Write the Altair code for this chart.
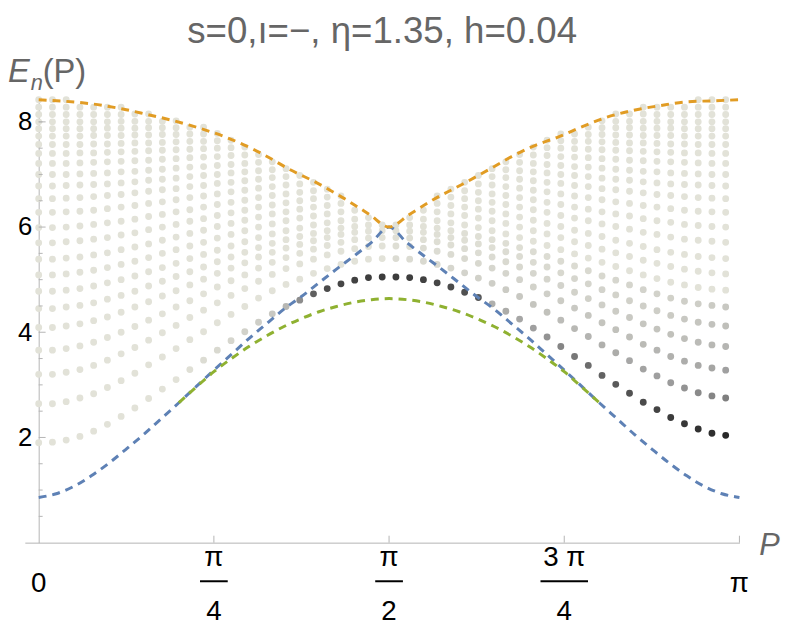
import altair as alt
import pandas as pd

TITLE = "s=0,\u0131=\u2212,  \u03b7=1.35, h=0.04"

# ---- columns of the spectrum: P_k = k*pi/51, k = 0..50 (P in units of pi) ----
N_COLS = 51
col_p = [k / 51 for k in range(N_COLS)]

# ---- energy levels, one list per level, one value per column ----
levels = [
    [1.90, 1.91, 1.95, 2.02, 2.12, 2.25, 2.40, 2.56, 2.74, 2.92, 3.10, 3.29, 3.47, 3.66, 3.84, 4.01, 4.19, 4.35, 4.49, 4.61, 4.73, 4.83, 4.92, 4.99, 5.04, 5.05,
     5.05, 5.04, 5.00, 4.94, 4.86, 4.76, 4.66, 4.54, 4.40, 4.25, 4.08, 3.91, 3.73, 3.54, 3.37, 3.18, 3.01, 2.84, 2.67, 2.53, 2.38, 2.26, 2.16, 2.08, 2.04],
    [2.64, 2.64, 2.68, 2.75, 2.83, 2.95, 3.08, 3.22, 3.38, 3.53, 3.69, 3.86, 4.01, 4.18, 4.34, 4.49, 4.65, 4.79, 4.91, 5.01, 5.12, 5.21, 5.29, 5.35, 5.39, 5.40,
     5.40, 5.39, 5.35, 5.29, 5.22, 5.13, 5.03, 4.93, 4.81, 4.68, 4.53, 4.38, 4.23, 4.07, 3.92, 3.76, 3.61, 3.46, 3.30, 3.17, 3.04, 2.94, 2.85, 2.79, 2.75],
    [3.20, 3.20, 3.24, 3.29, 3.37, 3.47, 3.59, 3.71, 3.85, 3.99, 4.13, 4.28, 4.42, 4.56, 4.70, 4.83, 4.97, 5.10, 5.21, 5.30, 5.39, 5.47, 5.54, 5.59, 5.63, 5.64,
     5.64, 5.63, 5.60, 5.54, 5.48, 5.40, 5.31, 5.22, 5.12, 5.00, 4.86, 4.73, 4.60, 4.46, 4.32, 4.18, 4.05, 3.91, 3.77, 3.66, 3.54, 3.45, 3.37, 3.32, 3.28],
    [3.66, 3.66, 3.69, 3.74, 3.81, 3.90, 4.00, 4.11, 4.23, 4.35, 4.48, 4.60, 4.73, 4.86, 4.98, 5.09, 5.22, 5.33, 5.42, 5.50, 5.58, 5.65, 5.71, 5.76, 5.79, 5.80,
     5.80, 5.79, 5.76, 5.72, 5.66, 5.59, 5.51, 5.43, 5.34, 5.24, 5.12, 5.01, 4.89, 4.76, 4.64, 4.52, 4.40, 4.28, 4.16, 4.06, 3.96, 3.88, 3.81, 3.76, 3.73],
    [4.09, 4.09, 4.12, 4.16, 4.22, 4.29, 4.38, 4.48, 4.58, 4.69, 4.79, 4.90, 5.01, 5.12, 5.22, 5.32, 5.43, 5.52, 5.60, 5.67, 5.74, 5.80, 5.86, 5.90, 5.92, 5.93,
     5.93, 5.92, 5.90, 5.86, 5.80, 5.75, 5.68, 5.61, 5.53, 5.44, 5.33, 5.24, 5.13, 5.02, 4.92, 4.81, 4.71, 4.60, 4.50, 4.41, 4.32, 4.25, 4.19, 4.15, 4.12],
    [4.45, 4.45, 4.48, 4.51, 4.56, 4.63, 4.70, 4.78, 4.88, 4.97, 5.06, 5.15, 5.24, 5.34, 5.43, 5.52, 5.61, 5.69, 5.76, 5.82, 5.88, 5.93, 5.98, 6.01, 6.04, 6.04,
     6.04, 6.04, 6.01, 5.98, 5.93, 5.88, 5.82, 5.76, 5.69, 5.61, 5.53, 5.44, 5.35, 5.26, 5.17, 5.07, 4.99, 4.90, 4.81, 4.73, 4.65, 4.59, 4.54, 4.51, 4.48],
    [4.78, 4.78, 4.80, 4.83, 4.88, 4.94, 5.00, 5.07, 5.15, 5.23, 5.31, 5.40, 5.48, 5.56, 5.64, 5.72, 5.80, 5.87, 5.93, 5.98, 6.04, 6.08, 6.12, 6.15, 6.18, 6.18,
     6.18, 6.18, 6.15, 6.12, 6.08, 6.04, 5.99, 5.93, 5.87, 5.80, 5.73, 5.65, 5.57, 5.49, 5.41, 5.33, 5.25, 5.17, 5.09, 5.02, 4.95, 4.90, 4.85, 4.82, 4.80],
    [5.09, 5.09, 5.11, 5.14, 5.18, 5.23, 5.29, 5.35, 5.42, 5.50, 5.57, 5.64, 5.71, 5.79, 5.86, 5.93, 6.00, 6.06, 6.12, 6.17, 6.21, 6.25, 6.29, 6.32, 6.34, 6.34,
     6.34, 6.34, 6.32, 6.29, 6.25, 6.22, 6.17, 6.12, 6.07, 6.00, 5.93, 5.87, 5.80, 5.72, 5.65, 5.58, 5.51, 5.44, 5.37, 5.31, 5.25, 5.20, 5.16, 5.13, 5.11],
    [5.39, 5.39, 5.41, 5.43, 5.47, 5.51, 5.57, 5.62, 5.68, 5.75, 5.81, 5.88, 5.94, 6.01, 6.07, 6.13, 6.19, 6.25, 6.29, 6.34, 6.38, 6.41, 6.45, 6.47, 6.49, 6.49,
     6.49, 6.49, 6.47, 6.45, 6.41, 6.38, 6.34, 6.30, 6.25, 6.19, 6.13, 6.07, 6.01, 5.94, 5.88, 5.82, 5.75, 5.69, 5.63, 5.57, 5.52, 5.48, 5.44, 5.42, 5.40],
    [5.70, 5.70, 5.72, 5.74, 5.77, 5.80, 5.85, 5.89, 5.95, 6.00, 6.05, 6.11, 6.16, 6.22, 6.27, 6.32, 6.38, 6.42, 6.46, 6.50, 6.54, 6.57, 6.59, 6.61, 6.63, 6.63,
     6.63, 6.63, 6.61, 6.59, 6.57, 6.54, 6.50, 6.47, 6.43, 6.38, 6.33, 6.28, 6.22, 6.17, 6.12, 6.06, 6.01, 5.96, 5.90, 5.86, 5.81, 5.77, 5.75, 5.73, 5.71],
    [5.99, 5.99, 6.00, 6.02, 6.05, 6.08, 6.11, 6.15, 6.20, 6.24, 6.29, 6.33, 6.38, 6.43, 6.47, 6.51, 6.56, 6.60, 6.63, 6.66, 6.69, 6.72, 6.74, 6.76, 6.77, 6.77,
     6.77, 6.77, 6.76, 6.74, 6.72, 6.69, 6.66, 6.63, 6.60, 6.56, 6.52, 6.47, 6.43, 6.38, 6.34, 6.29, 6.25, 6.21, 6.16, 6.12, 6.09, 6.05, 6.03, 6.01, 6.00],
    [6.28, 6.28, 6.29, 6.30, 6.32, 6.35, 6.38, 6.41, 6.45, 6.48, 6.52, 6.56, 6.59, 6.63, 6.67, 6.70, 6.74, 6.77, 6.80, 6.82, 6.85, 6.87, 6.88, 6.90, 6.91, 6.91,
     6.91, 6.91, 6.90, 6.88, 6.87, 6.85, 6.82, 6.80, 6.77, 6.74, 6.70, 6.67, 6.63, 6.59, 6.56, 6.52, 6.48, 6.45, 6.41, 6.38, 6.35, 6.32, 6.30, 6.29, 6.28],
    [6.54, 6.54, 6.55, 6.56, 6.58, 6.60, 6.62, 6.65, 6.68, 6.71, 6.73, 6.77, 6.79, 6.83, 6.85, 6.88, 6.91, 6.94, 6.96, 6.98, 7.00, 7.01, 7.03, 7.04, 7.05, 7.05,
     7.05, 7.05, 7.04, 7.03, 7.01, 7.00, 6.98, 6.96, 6.94, 6.91, 6.88, 6.85, 6.83, 6.79, 6.77, 6.73, 6.71, 6.68, 6.65, 6.62, 6.60, 6.58, 6.56, 6.55, 6.54],
    [6.78, 6.78, 6.79, 6.80, 6.81, 6.82, 6.84, 6.86, 6.89, 6.91, 6.93, 6.96, 6.98, 7.00, 7.03, 7.05, 7.07, 7.09, 7.11, 7.12, 7.14, 7.15, 7.16, 7.17, 7.18, 7.18,
     7.18, 7.18, 7.17, 7.16, 7.15, 7.14, 7.12, 7.11, 7.09, 7.07, 7.05, 7.03, 7.00, 6.98, 6.96, 6.93, 6.91, 6.89, 6.86, 6.84, 6.82, 6.81, 6.80, 6.79, 6.78],
    [7.00, 7.00, 7.00, 7.01, 7.02, 7.03, 7.05, 7.06, 7.08, 7.10, 7.12, 7.14, 7.15, 7.17, 7.19, 7.21, 7.23, 7.24, 7.25, 7.27, 7.28, 7.29, 7.30, 7.30, 7.31, 7.31,
     7.31, 7.31, 7.30, 7.30, 7.29, 7.28, 7.27, 7.25, 7.24, 7.23, 7.21, 7.19, 7.17, 7.15, 7.14, 7.12, 7.10, 7.08, 7.06, 7.05, 7.03, 7.02, 7.01, 7.00, 7.00],
    [7.21, 7.21, 7.21, 7.22, 7.23, 7.24, 7.25, 7.26, 7.27, 7.29, 7.30, 7.32, 7.33, 7.34, 7.36, 7.37, 7.38, 7.40, 7.41, 7.42, 7.43, 7.43, 7.44, 7.45, 7.45, 7.45,
     7.45, 7.45, 7.45, 7.44, 7.43, 7.43, 7.42, 7.41, 7.40, 7.38, 7.37, 7.36, 7.34, 7.33, 7.32, 7.30, 7.29, 7.27, 7.26, 7.25, 7.24, 7.23, 7.22, 7.21, 7.21],
    [7.40, 7.40, 7.40, 7.41, 7.41, 7.42, 7.43, 7.44, 7.45, 7.46, 7.47, 7.48, 7.49, 7.50, 7.51, 7.52, 7.53, 7.54, 7.55, 7.55, 7.56, 7.57, 7.57, 7.58, 7.58, 7.58,
     7.58, 7.58, 7.58, 7.57, 7.57, 7.56, 7.55, 7.55, 7.54, 7.53, 7.52, 7.51, 7.50, 7.49, 7.48, 7.47, 7.46, 7.45, 7.44, 7.43, 7.42, 7.41, 7.41, 7.40, 7.40],
    [7.57, 7.57, 7.57, 7.57, 7.58, 7.58, 7.59, 7.60, 7.60, 7.61, 7.62, 7.63, 7.63, 7.64, 7.65, 7.66, 7.66, 7.67, 7.68, 7.68, 7.69, 7.69, 7.69, 7.70, 7.70, 7.70,
     7.70, 7.70, 7.70, 7.69, 7.69, 7.69, 7.68, 7.68, 7.67, 7.66, 7.66, 7.65, 7.64, 7.63, 7.63, 7.62, 7.61, 7.60, 7.60, 7.59, 7.58, 7.58, 7.57, 7.57, 7.57],
    [7.73, 7.73, 7.73, 7.73, 7.74, 7.74, 7.74, 7.75, 7.75, 7.76, 7.76, 7.77, 7.77, 7.78, 7.79, 7.79, 7.80, 7.80, 7.80, 7.81, 7.81, 7.81, 7.82, 7.82, 7.82, 7.82,
     7.82, 7.82, 7.82, 7.81, 7.81, 7.81, 7.80, 7.80, 7.80, 7.79, 7.79, 7.78, 7.77, 7.77, 7.76, 7.76, 7.75, 7.75, 7.74, 7.74, 7.74, 7.73, 7.73, 7.73, 7.73],
    [7.87, 7.87, 7.87, 7.87, 7.87, 7.88, 7.88, 7.88, 7.89, 7.89, 7.89, 7.90, 7.90, 7.90, 7.91, 7.91, 7.91, 7.92, 7.92, 7.92, 7.92, 7.93, 7.93, 7.93, 7.93, 7.93,
     7.93, 7.93, 7.93, 7.93, 7.93, 7.92, 7.92, 7.92, 7.92, 7.91, 7.91, 7.91, 7.90, 7.90, 7.90, 7.89, 7.89, 7.89, 7.88, 7.88, 7.88, 7.87, 7.87, 7.87, 7.87],
    [8.00, 8.00, 8.00, 8.00, 8.00, 8.00, 8.01, 8.01, 8.01, 8.01, 8.02, 8.02, 8.02, 8.02, 8.02, 8.03, 8.03, 8.03, 8.03, 8.03, 8.04, 8.04, 8.04, 8.04, 8.04, 8.04,
     8.04, 8.04, 8.04, 8.04, 8.04, 8.04, 8.03, 8.03, 8.03, 8.03, 8.03, 8.02, 8.02, 8.02, 8.02, 8.02, 8.01, 8.01, 8.01, 8.01, 8.00, 8.00, 8.00, 8.00, 8.00],
    [8.14] * 7 + [8.15] * 10 + [8.16] * 18 + [8.15] * 10 + [8.14] * 6,
    [8.28] * 51,
    [8.42] * 51,
]

# shading of the lowest levels (0 = light grey, 1 = black); higher levels are light
shade = [
    [0, 0, 0, 0, 0, 0, 0, 0, 0, 0, 0, 0.02, 0.04, 0.06, 0.08, 0.11, 0.14, 0.18, 0.30, 0.55, 0.72, 0.80, 0.82, 0.84, 0.85, 0.86,
     0.86, 0.85, 0.84, 0.82, 0.80, 0.78, 0.75, 0.35, 0.38, 0.42, 0.47, 0.53, 0.58, 0.63, 0.67, 0.71, 0.74, 0.77, 0.80, 0.83, 0.86, 0.88, 0.90, 0.92, 0.94],
    [0] * 26 + [0.05, 0.05, 0.06, 0.07, 0.08, 0.10, 0.12, 0.14, 0.16, 0.18, 0.20, 0.23, 0.26, 0.29, 0.32, 0.35, 0.38, 0.41, 0.44, 0.47, 0.50, 0.53, 0.56, 0.58, 0.60],
    [0] * 26 + [0.03, 0.03, 0.04, 0.04, 0.05, 0.06, 0.07, 0.08, 0.09, 0.10, 0.11, 0.13, 0.15, 0.17, 0.19, 0.21, 0.23, 0.25, 0.28, 0.31, 0.34, 0.37, 0.40, 0.43, 0.46],
    [0] * 26 + [0.02, 0.02, 0.02, 0.03, 0.03, 0.04, 0.04, 0.05, 0.06, 0.07, 0.08, 0.09, 0.10, 0.11, 0.12, 0.13, 0.15, 0.17, 0.19, 0.21, 0.23, 0.25, 0.27, 0.29, 0.31],
    [0] * 26 + [0.01, 0.01, 0.01, 0.02, 0.02, 0.02, 0.03, 0.03, 0.04, 0.04, 0.05, 0.06, 0.07, 0.08, 0.09, 0.10, 0.11, 0.12, 0.13, 0.14, 0.16, 0.18, 0.20, 0.22, 0.24],
    [0] * 26 + [0.01, 0.01, 0.01, 0.01, 0.01, 0.02, 0.02, 0.02, 0.03, 0.03, 0.04, 0.04, 0.05, 0.05, 0.06, 0.07, 0.08, 0.09, 0.10, 0.11, 0.12, 0.13, 0.14, 0.16, 0.18],
]

# upper edge of the band at every column: levels above it are not present
upper_at_col = [8.42, 8.41, 8.39, 8.36, 8.34, 8.30, 8.25, 8.20, 8.14, 8.07, 7.99, 7.93, 7.86, 7.77, 7.67, 7.55, 7.42, 7.28, 7.14, 7.00, 6.87, 6.72, 6.57, 6.41, 6.25, 6.08,
                6.08, 6.25, 6.40, 6.56, 6.71, 6.85, 6.98, 7.12, 7.28, 7.42, 7.54, 7.64, 7.74, 7.85, 7.95, 8.05, 8.13, 8.20, 8.26, 8.30, 8.34, 8.37, 8.39, 8.40, 8.41]

# ---- dashed curves (P in units of pi) ----
blue_p = [0, 0.025, 0.05, 0.075, 0.10, 0.125, 0.15, 0.175, 0.20, 0.225, 0.25, 0.275, 0.30, 0.325, 0.35, 0.375, 0.40, 0.425, 0.45, 0.475, 0.50,
          0.525, 0.55, 0.575, 0.60, 0.625, 0.65, 0.675, 0.70, 0.725, 0.75, 0.775, 0.80, 0.825, 0.85, 0.875, 0.90, 0.925, 0.95, 0.975, 1.0]
blue_e = [0.86, 0.93, 1.07, 1.27, 1.51, 1.78, 2.06, 2.36, 2.66, 2.97, 3.28, 3.58, 3.88, 4.16, 4.44, 4.68, 4.94, 5.20, 5.45, 5.71, 6.00,
          5.71, 5.45, 5.20, 4.94, 4.68, 4.44, 4.16, 3.88, 3.58, 3.28, 2.97, 2.66, 2.36, 2.06, 1.78, 1.51, 1.27, 1.07, 0.93, 0.86]
orange_p = [0, 0.039, 0.077, 0.114, 0.152, 0.190, 0.227, 0.265, 0.303, 0.322, 0.359, 0.397, 0.435, 0.472, 0.50,
            0.529, 0.567, 0.604, 0.642, 0.675, 0.708, 0.741, 0.774, 0.811, 0.849, 0.887, 0.924, 0.962, 1.0]
orange_e = [8.42, 8.39, 8.34, 8.26, 8.15, 8.03, 7.89, 7.72, 7.50, 7.37, 7.09, 6.84, 6.55, 6.24, 6.00,
            6.24, 6.55, 6.81, 7.09, 7.34, 7.55, 7.71, 7.90, 8.09, 8.22, 8.31, 8.38, 8.40, 8.42]
green_p = [0.20, 0.225, 0.25, 0.275, 0.30, 0.325, 0.35, 0.375, 0.40, 0.425, 0.45, 0.475, 0.50,
           0.525, 0.55, 0.575, 0.60, 0.625, 0.65, 0.675, 0.70, 0.725, 0.75, 0.775, 0.80]
green_e = [2.66, 2.96, 3.25, 3.50, 3.73, 3.93, 4.11, 4.26, 4.39, 4.49, 4.57, 4.62, 4.64,
           4.62, 4.57, 4.49, 4.39, 4.26, 4.11, 3.93, 3.73, 3.50, 3.25, 2.96, 2.66]

# ---- axis ticks and labels ----
y_major = [2, 4, 6, 8]
y_minor = [0.5, 1, 1.5, 2.5, 3, 3.5, 4.5, 5, 5.5, 6.5, 7, 7.5, 8]
x_ticks = [0.25, 0.5, 0.75, 1.0]
x_single = pd.DataFrame({"p": [0, 1.0], "t": ["0", "\u03c0"]})
x_frac = pd.DataFrame({"p": [0.25, 0.5, 0.75], "num": ["\u03c0", "\u03c0", "3 \u03c0"], "den": ["4", "2", "4"]})

# ---- build the point table ----
pts = []
for j, row in enumerate(levels):
    for k, e in enumerate(row):
        if e <= upper_at_col[k] + 0.04:
            w = shade[j][k] if j < len(shade) else 0
            pts.append({"p": col_p[k], "e": e, "w": w})
dots = pd.DataFrame(pts).sort_values("w")

blue = pd.DataFrame({"p": blue_p, "e": blue_e})
orange = pd.DataFrame({"p": orange_p, "e": orange_e})
green = pd.DataFrame({"p": green_p, "e": green_e})

W, H = 722, 448
FONT = "Liberation Sans"
AX = "#b4b4b4"
GREY_TXT = "#666666"

xs = alt.Scale(domain=[-0.0198, 1.0], nice=False, zero=False)
ys = alt.Scale(domain=[0, 8.43], nice=False, zero=False)

base_dots = alt.Chart(dots).mark_circle(size=48, opacity=1).encode(
    x=alt.X("p:Q", scale=xs, axis=alt.Axis(labels=False, ticks=False, title=None, grid=False,
                                            domainColor=AX, domainWidth=1)),
    y=alt.Y("e:Q", scale=ys, axis=alt.Axis(values=y_major, format="d", ticks=False, title=None, grid=False,
                                            domainColor=AX, domainWidth=1, offset=-14,
                                            labelFontSize=26, labelColor="black", labelFont=FONT,
                                            labelPadding=7)),
    color=alt.Color("w:Q", scale=alt.Scale(domain=[0, 0.5, 1], range=["#e2e2d8", "#9b9b9b", "#1c1c1c"]), legend=None),
)


def dashed(df, color):
    return alt.Chart(df).mark_line(color=color, strokeWidth=3, strokeDash=[8, 6], interpolate="monotone").encode(
        x=alt.X("p:Q", scale=xs), y=alt.Y("e:Q", scale=ys))


l_blue = dashed(blue, "#5e81b5")
l_green = dashed(green, "#8fb131")
l_orange = dashed(orange, "#e19c24")

xt = alt.Chart(pd.DataFrame({"p": x_ticks})).mark_rule(color=AX).encode(
    x=alt.X("p:Q", scale=xs), y=alt.value(H), y2=alt.value(H - 7))
ytM = alt.Chart(pd.DataFrame({"e": y_major})).mark_rule(color=AX).encode(
    y=alt.Y("e:Q", scale=ys), x=alt.value(14), x2=alt.value(21))
ytm = alt.Chart(pd.DataFrame({"e": y_minor})).mark_rule(color=AX).encode(
    y=alt.Y("e:Q", scale=ys), x=alt.value(14), x2=alt.value(18))

LFS = 28
lab_single = alt.Chart(x_single).mark_text(fontSize=LFS, font=FONT, baseline="middle", color="black").encode(
    x=alt.X("p:Q", scale=xs), y=alt.value(490), text="t:N")
lab_num = alt.Chart(x_frac).mark_text(fontSize=LFS, font=FONT, baseline="middle", color="black").encode(
    x=alt.X("p:Q", scale=xs), y=alt.value(464), text="num:N")
lab_den = alt.Chart(x_frac).mark_text(fontSize=LFS, font=FONT, baseline="middle", color="black").encode(
    x=alt.X("p:Q", scale=xs), y=alt.value(518), text="den:N")
bar_a = alt.Chart(x_frac[x_frac["num"] == "\u03c0"]).mark_rule(color="black", strokeWidth=2, xOffset=-14, x2Offset=14).encode(
    x=alt.X("p:Q", scale=xs), x2="p:Q", y=alt.value(487))
bar_b = alt.Chart(x_frac[x_frac["num"] != "\u03c0"]).mark_rule(color="black", strokeWidth=2, xOffset=-24, x2Offset=24).encode(
    x=alt.X("p:Q", scale=xs), x2="p:Q", y=alt.value(487))

ann = pd.DataFrame({"t": ["E", "n", "(P)", "P"]})
t_E = alt.Chart(ann[ann.t == "E"]).mark_text(fontSize=33, font=FONT, fontStyle="italic", align="left", baseline="alphabetic", color=GREY_TXT).encode(
    x=alt.value(-17), y=alt.value(-17), text="t:N")
t_n = alt.Chart(ann[ann.t == "n"]).mark_text(fontSize=22, font=FONT, fontStyle="italic", align="left", baseline="alphabetic", color=GREY_TXT).encode(
    x=alt.value(6), y=alt.value(-9), text="t:N")
t_P = alt.Chart(ann[ann.t == "(P)"]).mark_text(fontSize=33, font=FONT, align="left", baseline="alphabetic", color=GREY_TXT).encode(
    x=alt.value(18), y=alt.value(-17), text="t:N")
t_xP = alt.Chart(ann[ann.t == "P"]).mark_text(fontSize=31, font=FONT, fontStyle="italic", align="left", baseline="alphabetic", color=GREY_TXT).encode(
    x=alt.value(742), y=alt.value(H + 12), text="t:N")

chart = alt.layer(
    base_dots, l_blue, l_green, l_orange, xt, ytM, ytm,
    lab_single, lab_num, lab_den, bar_a, bar_b, t_E, t_n, t_P, t_xP,
).properties(
    width=W, height=H,
    background="white",
    title=alt.Title(TITLE, fontSize=37, font=FONT, fontWeight="normal", color=GREY_TXT, anchor="middle", offset=6),
    autosize=alt.AutoSizeParams(type="none"),
    padding={"left": 17, "top": 89, "right": 42, "bottom": 80},
).configure_view(stroke="transparent", strokeWidth=0)

chart.save("out.html", embed_options={"renderer": "svg", "actions": False})
